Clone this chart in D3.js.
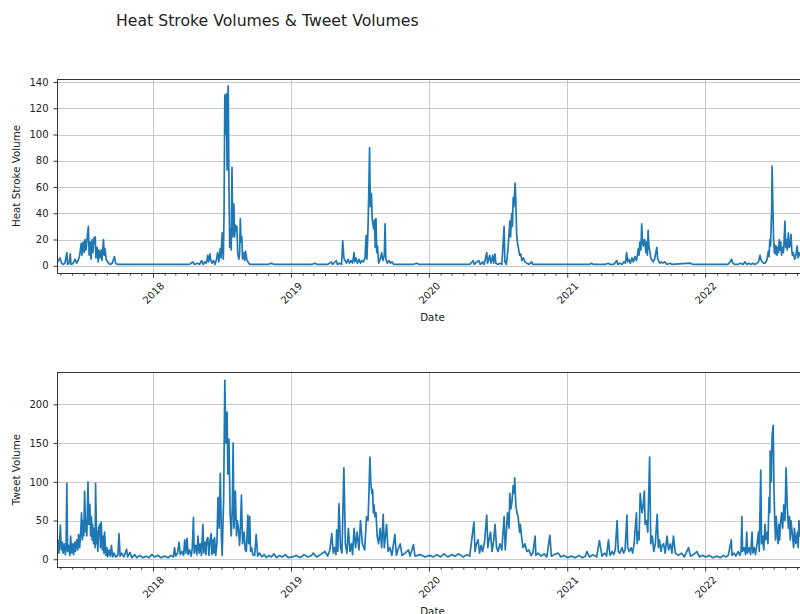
<!DOCTYPE html>
<html><head><meta charset="utf-8">
<script src="https://cdn.jsdelivr.net/npm/d3@7"></script>
<style>body{margin:0;background:#fff}svg{display:block;font-family:"DejaVu Sans",sans-serif}</style>
</head><body>
<svg id="c" width="800" height="614"></svg>
<script>
const titleText = "Heat Stroke Volumes & Tweet Volumes";
const dateExtent = ["2017-04-22", "2022-09-30"];
const yearTicks = ["2018-01-01", "2019-01-01", "2020-01-01", "2021-01-01", "2022-01-01"];
const heatTicks = [0, 20, 40, 60, 80, 100, 120, 140];
const tweetTicks = [0, 50, 100, 150, 200];
const heatDomain = [-5.5, 142.3];
const tweetDomain = [-10, 241.8];

const heatStroke = [
["2017-04-22",2],["2017-04-26",4],["2017-04-30",6],["2017-05-04",2],["2017-05-08",1],["2017-05-13",2],["2017-05-18",10],["2017-05-20",1],["2017-05-24",2],["2017-05-27",9],["2017-05-29",1],["2017-06-04",2],["2017-06-09",5],["2017-06-13",2],["2017-06-17",4],["2017-06-21",8],["2017-06-25",17],["2017-06-27",8],["2017-06-30",18],["2017-07-03",10],["2017-07-05",20],["2017-07-08",12],["2017-07-11",22],["2017-07-14",30],["2017-07-16",8],["2017-07-19",18],["2017-07-21",5],["2017-07-24",20],["2017-07-26",10],["2017-07-29",21],["2017-08-01",22],["2017-08-03",6],["2017-08-06",14],["2017-08-09",3],["2017-08-11",12],["2017-08-14",6],["2017-08-17",12],["2017-08-19",4],["2017-08-23",20],["2017-08-25",8],["2017-08-27",13],["2017-08-30",5],["2017-09-03",3],["2017-09-09",1],["2017-09-15",2],["2017-09-21",7],["2017-09-24",2],["2017-09-28",1],["2017-11-15",1],["2018-02-01",1],
["2018-04-08",1],["2018-04-16",3],["2018-04-21",1],["2018-04-29",2],["2018-05-04",1],["2018-05-10",4],["2018-05-14",1],["2018-05-18",3],["2018-05-22",2],["2018-05-26",8],["2018-05-28",3],["2018-06-01",9],["2018-06-03",4],["2018-06-06",2],["2018-06-10",4],["2018-06-14",1],["2018-06-18",5],["2018-06-21",10],["2018-06-24",3],["2018-06-28",13],["2018-06-30",6],["2018-07-03",25],["2018-07-06",5],["2018-07-08",40],["2018-07-10",130],["2018-07-12",100],["2018-07-14",131],["2018-07-16",73],["2018-07-17",120],["2018-07-19",137],["2018-07-21",60],["2018-07-23",14],["2018-07-25",28],["2018-07-27",12],["2018-07-29",75],["2018-07-31",22],["2018-08-02",40],["2018-08-03",47],["2018-08-05",22],["2018-08-07",31],["2018-08-09",27],["2018-08-11",30],["2018-08-13",10],["2018-08-16",5],["2018-08-18",8],["2018-08-20",36],["2018-08-22",18],["2018-08-24",22],["2018-08-26",5],["2018-08-29",10],["2018-09-01",4],["2018-09-03",11],["2018-09-06",5],["2018-09-09",3],["2018-09-14",1],["2018-11-01",1],["2018-11-11",2],["2018-11-17",1],["2019-01-15",1],
["2019-02-25",1],["2019-03-05",2],["2019-03-12",1],["2019-04-08",1],["2019-04-18",3],["2019-04-21",1],["2019-05-01",4],["2019-05-04",1],["2019-05-10",2],["2019-05-15",1],["2019-05-18",19],["2019-05-21",6],["2019-05-24",4],["2019-05-28",2],["2019-06-01",5],["2019-06-05",2],["2019-06-09",4],["2019-06-13",2],["2019-06-17",10],["2019-06-19",3],["2019-06-22",6],["2019-06-26",2],["2019-06-30",5],["2019-07-04",2],["2019-07-08",4],["2019-07-12",3],["2019-07-16",6],["2019-07-19",23],["2019-07-21",5],["2019-07-24",30],["2019-07-26",58],["2019-07-28",90],["2019-07-30",45],["2019-08-02",55],["2019-08-04",35],["2019-08-06",32],["2019-08-08",28],["2019-08-10",35],["2019-08-12",14],["2019-08-14",36],["2019-08-16",10],["2019-08-18",15],["2019-08-21",2],["2019-08-25",5],["2019-08-29",10],["2019-09-01",4],["2019-09-05",8],["2019-09-07",32],["2019-09-09",5],["2019-09-13",2],["2019-09-17",4],["2019-09-21",2],["2019-09-25",3],["2019-09-30",1],["2019-11-21",1],["2019-11-29",2],["2019-12-07",1],["2020-02-15",1],
["2020-04-18",1],["2020-04-27",4],["2020-04-30",1],["2020-05-07",3],["2020-05-12",4],["2020-05-16",1],["2020-05-22",3],["2020-05-26",1],["2020-06-02",10],["2020-06-04",2],["2020-06-07",5],["2020-06-10",8],["2020-06-13",2],["2020-06-18",8],["2020-06-20",2],["2020-06-24",9],["2020-06-26",2],["2020-07-02",1],["2020-07-07",2],["2020-07-12",1],["2020-07-18",30],["2020-07-20",3],["2020-07-24",1],["2020-07-28",12],["2020-07-31",25],["2020-08-02",34],["2020-08-04",22],["2020-08-07",40],["2020-08-09",30],["2020-08-11",52],["2020-08-13",45],["2020-08-16",63],["2020-08-18",50],["2020-08-20",25],["2020-08-22",18],["2020-08-24",15],["2020-08-28",8],["2020-08-31",9],["2020-09-03",4],["2020-09-07",6],["2020-09-11",3],["2020-09-16",2],["2020-09-22",1],["2020-09-29",3],["2020-10-02",1],["2021-01-15",1],
["2021-03-02",1],["2021-03-06",2],["2021-03-11",1],["2021-04-11",1],["2021-04-19",2],["2021-04-24",1],["2021-05-04",1],["2021-05-12",4],["2021-05-15",1],["2021-05-20",2],["2021-05-26",1],["2021-05-31",3],["2021-06-04",2],["2021-06-07",10],["2021-06-10",3],["2021-06-13",5],["2021-06-17",2],["2021-06-21",6],["2021-06-25",3],["2021-06-29",7],["2021-07-03",4],["2021-07-06",9],["2021-07-08",13],["2021-07-10",8],["2021-07-12",18],["2021-07-15",12],["2021-07-17",32],["2021-07-19",20],["2021-07-21",15],["2021-07-23",19],["2021-07-25",20],["2021-07-28",10],["2021-07-30",18],["2021-08-01",8],["2021-08-03",27],["2021-08-05",15],["2021-08-08",10],["2021-08-10",6],["2021-08-12",5],["2021-08-16",3],["2021-08-20",5],["2021-08-22",8],["2021-08-26",14],["2021-08-28",6],["2021-08-30",4],["2021-09-03",2],["2021-09-07",3],["2021-09-11",2],["2021-09-16",3],["2021-09-22",1],["2021-09-30",2],["2021-10-05",1],["2021-11-22",2],["2021-11-30",1],["2022-02-01",1],
["2022-03-02",1],["2022-03-08",3],["2022-03-12",5],["2022-03-15",2],["2022-03-20",1],["2022-03-28",1],["2022-04-05",2],["2022-04-11",1],["2022-04-16",3],["2022-04-21",1],["2022-04-26",2],["2022-05-02",1],["2022-05-07",2],["2022-05-12",1],["2022-05-18",2],["2022-05-22",3],["2022-05-26",8],["2022-05-28",5],["2022-06-01",3],["2022-06-05",2],["2022-06-09",2],["2022-06-13",4],["2022-06-17",11],["2022-06-19",7],["2022-06-21",20],["2022-06-23",15],["2022-06-26",45],["2022-06-27",76],["2022-06-29",45],["2022-07-01",20],["2022-07-03",10],["2022-07-04",16],["2022-07-06",9],["2022-07-08",15],["2022-07-10",8],["2022-07-12",14],["2022-07-14",10],["2022-07-16",20],["2022-07-18",12],["2022-07-20",18],["2022-07-22",8],["2022-07-24",14],["2022-07-27",10],["2022-07-29",20],["2022-07-31",34],["2022-08-02",14],["2022-08-04",20],["2022-08-06",12],["2022-08-09",25],["2022-08-11",14],["2022-08-13",15],["2022-08-16",24],["2022-08-18",12],["2022-08-20",8],["2022-08-22",10],["2022-08-26",5],["2022-08-29",8],["2022-09-01",15],["2022-09-04",6],["2022-09-06",10],["2022-09-09",8],["2022-09-13",5],["2022-09-18",4],["2022-09-23",3],["2022-09-30",2]
];

const tweets = [
["2017-04-22",15],["2017-04-25",24],["2017-04-27",8],["2017-05-01",44],["2017-05-03",12],["2017-05-06",22],["2017-05-08",8],["2017-05-11",20],["2017-05-14",6],["2017-05-16",15],["2017-05-18",98],["2017-05-20",10],["2017-05-23",18],["2017-05-26",5],["2017-05-28",30],["2017-05-31",8],["2017-06-03",20],["2017-06-05",6],["2017-06-08",22],["2017-06-10",10],["2017-06-13",25],["2017-06-16",12],["2017-06-18",32],["2017-06-21",15],["2017-06-24",38],["2017-06-26",60],["2017-06-28",25],["2017-06-30",50],["2017-07-02",30],["2017-07-04",88],["2017-07-07",35],["2017-07-08",50],["2017-07-10",30],["2017-07-13",100],["2017-07-15",45],["2017-07-18",71],["2017-07-20",30],["2017-07-22",55],["2017-07-24",25],["2017-07-25",45],["2017-07-28",20],["2017-07-29",40],["2017-08-01",15],["2017-08-02",98],["2017-08-05",20],["2017-08-06",35],["2017-08-08",10],["2017-08-10",40],["2017-08-13",45],["2017-08-15",15],["2017-08-17",48],["2017-08-20",12],["2017-08-22",30],["2017-08-24",8],["2017-08-26",35],["2017-08-29",5],["2017-09-01",15],["2017-09-03",3],["2017-09-07",12],["2017-09-10",4],["2017-09-13",18],["2017-09-16",3],["2017-09-20",8],["2017-09-24",3],["2017-09-30",5],["2017-10-03",33],["2017-10-06",4],["2017-10-10",8],["2017-10-16",3],["2017-10-23",13],["2017-10-26",3],["2017-11-01",9],["2017-11-06",2],["2017-11-14",6],["2017-11-19",2],["2017-11-27",5],["2017-12-05",2],["2017-12-13",4],["2017-12-21",2],["2017-12-29",6],
["2018-01-05",3],["2018-01-14",5],["2018-01-22",2],["2018-02-01",4],["2018-02-10",2],["2018-02-18",5],["2018-02-24",3],["2018-02-27",15],["2018-03-02",4],["2018-03-07",8],["2018-03-11",22],["2018-03-14",6],["2018-03-19",10],["2018-03-23",5],["2018-03-26",25],["2018-03-29",8],["2018-04-01",27],["2018-04-04",6],["2018-04-08",12],["2018-04-12",4],["2018-04-15",15],["2018-04-18",54],["2018-04-20",8],["2018-04-24",18],["2018-04-27",6],["2018-04-30",30],["2018-05-03",8],["2018-05-06",20],["2018-05-09",5],["2018-05-13",45],["2018-05-15",8],["2018-05-18",22],["2018-05-21",6],["2018-05-23",25],["2018-05-26",28],["2018-05-29",5],["2018-06-01",25],["2018-06-04",33],["2018-06-06",6],["2018-06-09",25],["2018-06-11",8],["2018-06-13",28],["2018-06-16",5],["2018-06-19",20],["2018-06-22",80],["2018-06-25",40],["2018-06-28",111],["2018-07-01",30],["2018-07-03",5],["2018-07-07",80],["2018-07-10",231],["2018-07-13",150],["2018-07-16",190],["2018-07-18",110],["2018-07-21",155],["2018-07-24",60],["2018-07-27",30],["2018-07-30",70],["2018-08-01",150],["2018-08-03",40],["2018-08-05",60],["2018-08-07",88],["2018-08-10",30],["2018-08-12",50],["2018-08-15",40],["2018-08-18",18],["2018-08-20",35],["2018-08-23",83],["2018-08-26",20],["2018-08-30",35],["2018-09-02",12],["2018-09-05",10],["2018-09-09",57],["2018-09-11",20],["2018-09-14",55],["2018-09-16",10],["2018-09-19",15],["2018-09-22",6],["2018-09-27",5],["2018-10-01",32],["2018-10-05",4],["2018-10-10",8],["2018-10-16",3],["2018-10-22",6],["2018-10-28",2],["2018-11-04",5],["2018-11-10",3],["2018-11-17",7],["2018-11-24",2],["2018-12-01",5],["2018-12-09",3],["2018-12-17",6],["2018-12-25",2],
["2019-01-05",3],["2019-01-15",5],["2019-01-25",2],["2019-02-05",6],["2019-02-15",3],["2019-02-25",5],["2019-03-01",8],["2019-03-10",3],["2019-03-20",6],["2019-04-01",10],["2019-04-08",4],["2019-04-14",12],["2019-04-19",33],["2019-04-23",8],["2019-04-27",15],["2019-04-30",6],["2019-05-02",38],["2019-05-05",10],["2019-05-08",72],["2019-05-12",15],["2019-05-16",8],["2019-05-21",118],["2019-05-25",20],["2019-05-29",8],["2019-06-02",40],["2019-06-06",10],["2019-06-10",20],["2019-06-13",6],["2019-06-17",40],["2019-06-21",15],["2019-06-25",35],["2019-06-30",12],["2019-07-04",50],["2019-07-09",20],["2019-07-15",12],["2019-07-20",55],["2019-07-24",50],["2019-07-26",80],["2019-07-29",132],["2019-07-31",100],["2019-08-03",85],["2019-08-05",90],["2019-08-07",60],["2019-08-09",70],["2019-08-11",55],["2019-08-14",60],["2019-08-17",30],["2019-08-21",20],["2019-08-25",40],["2019-08-29",15],["2019-09-02",58],["2019-09-05",15],["2019-09-11",45],["2019-09-15",10],["2019-09-20",15],["2019-09-25",5],["2019-10-03",32],["2019-10-07",5],["2019-10-11",12],["2019-10-17",20],["2019-10-22",5],["2019-10-30",8],["2019-11-08",12],["2019-11-12",4],["2019-11-21",19],["2019-11-25",4],["2019-12-09",6],["2019-12-22",3],
["2020-01-03",5],["2020-01-12",3],["2020-01-22",6],["2020-02-01",3],["2020-02-10",7],["2020-02-20",3],["2020-03-01",6],["2020-03-10",4],["2020-03-20",7],["2020-04-01",3],["2020-04-10",6],["2020-04-18",4],["2020-04-29",48],["2020-05-02",10],["2020-05-06",20],["2020-05-10",25],["2020-05-14",8],["2020-05-18",18],["2020-05-22",10],["2020-05-27",22],["2020-06-02",57],["2020-06-05",15],["2020-06-08",25],["2020-06-12",35],["2020-06-16",10],["2020-06-20",22],["2020-06-24",45],["2020-06-28",15],["2020-07-02",10],["2020-07-07",20],["2020-07-12",12],["2020-07-18",55],["2020-07-21",12],["2020-07-27",60],["2020-07-31",40],["2020-08-02",85],["2020-08-05",65],["2020-08-08",75],["2020-08-11",95],["2020-08-14",85],["2020-08-15",105],["2020-08-18",70],["2020-08-21",60],["2020-08-24",55],["2020-08-28",35],["2020-08-30",45],["2020-09-02",30],["2020-09-06",15],["2020-09-11",20],["2020-09-16",10],["2020-09-22",12],["2020-09-27",5],["2020-10-02",8],["2020-10-08",30],["2020-10-10",5],["2020-10-16",8],["2020-10-24",4],["2020-11-01",7],["2020-11-08",3],["2020-11-16",31],["2020-11-20",4],["2020-11-27",6],["2020-12-08",8],["2020-12-15",3],["2020-12-23",5],
["2021-01-02",2],["2021-01-12",4],["2021-01-22",2],["2021-02-01",5],["2021-02-10",2],["2021-02-18",4],["2021-02-22",10],["2021-03-01",3],["2021-03-10",6],["2021-03-20",3],["2021-03-27",24],["2021-04-03",4],["2021-04-10",8],["2021-04-15",4],["2021-04-20",25],["2021-04-24",5],["2021-04-30",10],["2021-05-04",6],["2021-05-08",12],["2021-05-13",50],["2021-05-16",10],["2021-05-20",8],["2021-05-26",15],["2021-05-30",8],["2021-06-03",12],["2021-06-08",57],["2021-06-10",15],["2021-06-14",10],["2021-06-19",15],["2021-06-23",8],["2021-06-27",20],["2021-07-03",60],["2021-07-05",20],["2021-07-08",35],["2021-07-10",25],["2021-07-13",85],["2021-07-18",60],["2021-07-21",70],["2021-07-24",88],["2021-07-26",45],["2021-07-30",50],["2021-08-02",35],["2021-08-07",132],["2021-08-10",20],["2021-08-14",30],["2021-08-18",10],["2021-08-22",20],["2021-08-27",58],["2021-08-30",15],["2021-09-02",25],["2021-09-06",10],["2021-09-09",18],["2021-09-13",20],["2021-09-17",8],["2021-09-22",30],["2021-09-26",12],["2021-10-01",20],["2021-10-05",8],["2021-10-09",30],["2021-10-14",8],["2021-10-22",5],["2021-10-30",8],["2021-11-07",3],["2021-11-18",15],["2021-11-23",4],["2021-12-01",6],["2021-12-10",10],["2021-12-17",3],["2021-12-24",5],
["2022-01-03",3],["2022-01-12",5],["2022-01-21",2],["2022-02-01",4],["2022-02-10",2],["2022-02-18",5],["2022-02-25",3],["2022-03-03",5],["2022-03-11",25],["2022-03-13",5],["2022-03-18",8],["2022-03-23",4],["2022-03-29",10],["2022-04-03",5],["2022-04-06",12],["2022-04-08",55],["2022-04-10",10],["2022-04-14",15],["2022-04-18",6],["2022-04-21",35],["2022-04-23",8],["2022-04-27",15],["2022-05-01",6],["2022-05-05",35],["2022-05-07",8],["2022-05-11",15],["2022-05-14",6],["2022-05-18",20],["2022-05-22",35],["2022-05-24",10],["2022-05-28",115],["2022-05-30",20],["2022-06-02",30],["2022-06-05",12],["2022-06-08",45],["2022-06-10",25],["2022-06-14",35],["2022-06-16",20],["2022-06-19",80],["2022-06-21",60],["2022-06-22",140],["2022-06-25",100],["2022-06-27",160],["2022-06-30",173],["2022-07-02",90],["2022-07-04",50],["2022-07-06",25],["2022-07-08",55],["2022-07-11",30],["2022-07-13",20],["2022-07-15",45],["2022-07-17",25],["2022-07-19",45],["2022-07-22",60],["2022-07-25",40],["2022-07-28",70],["2022-07-31",50],["2022-08-03",118],["2022-08-06",70],["2022-08-09",40],["2022-08-12",55],["2022-08-14",25],["2022-08-16",50],["2022-08-20",30],["2022-08-23",15],["2022-08-25",40],["2022-08-29",20],["2022-09-02",35],["2022-09-04",15],["2022-09-06",50],["2022-09-08",30],["2022-09-12",40],["2022-09-17",25],["2022-09-23",30],["2022-09-30",20]
];

const parse = d3.timeParse("%Y-%m-%d");
const svg = d3.select("#c");
const ink = "#222";
const lineColor = "#1f77b4";
const left = 57, right = 808;

const x = d3.scaleTime().domain(dateExtent.map(parse)).range([left, right]);
const years = yearTicks.map(parse);
const months = d3.timeMonth.range(x.domain()[0], x.domain()[1]).filter(d => d.getMonth() !== 0);

svg.append("text")
  .attr("x", 116).attr("y", 26)
  .attr("font-size", "15.7px").attr("fill", ink)
  .text(titleText);

function panel(id, data, ticks, domain, top, bottom, ylabel) {
  const y = d3.scaleLinear().domain(domain).range([bottom, top]);
  const g = svg.append("g");

  g.append("clipPath").attr("id", "clip" + id)
    .append("rect").attr("x", left).attr("y", top).attr("width", right - left).attr("height", bottom - top);

  g.append("g").selectAll("line").data(ticks).join("line")
    .attr("x1", left).attr("x2", right)
    .attr("y1", d => Math.round(y(d)) + 0.5).attr("y2", d => Math.round(y(d)) + 0.5)
    .attr("stroke", "#c9c9c9").attr("stroke-width", 1);
  g.append("g").selectAll("line").data(years).join("line")
    .attr("x1", d => Math.round(x(d)) + 0.5).attr("x2", d => Math.round(x(d)) + 0.5)
    .attr("y1", top).attr("y2", bottom)
    .attr("stroke", "#c9c9c9").attr("stroke-width", 1);

  const pts = data.map(d => [parse(d[0]), d[1]]);
  g.append("path")
    .attr("clip-path", `url(#clip${id})`)
    .attr("d", d3.line().x(d => x(d[0])).y(d => y(d[1]))(pts))
    .attr("fill", "none").attr("stroke", lineColor)
    .attr("stroke-width", 1.7).attr("stroke-linejoin", "round");

  g.append("rect")
    .attr("x", left + 0.5).attr("y", top + 0.5)
    .attr("width", right - left).attr("height", bottom - top)
    .attr("fill", "none").attr("stroke", "#333").attr("stroke-width", 1);

  const ya = g.append("g").attr("transform", `translate(${left + 0.5},0)`)
    .call(d3.axisLeft(y).tickValues(ticks).tickSize(4).tickPadding(5));
  ya.select(".domain").remove();
  ya.selectAll("line").attr("stroke", "#333");
  ya.selectAll("text").attr("font-size", "10px").attr("fill", ink).attr("font-family", "DejaVu Sans");

  const xa = g.append("g").attr("transform", `translate(0,${bottom + 0.5})`)
    .call(d3.axisBottom(x).tickValues(years).tickFormat(d3.timeFormat("%Y")).tickSize(4));
  xa.select(".domain").remove();
  xa.selectAll("line").attr("stroke", "#333");
  xa.selectAll("text")
    .attr("y", 0).attr("dy", null)
    .attr("dominant-baseline", "central")
    .attr("text-anchor", "middle")
    .attr("transform", "translate(0,19.5) rotate(-45)")
    .attr("font-size", "10px").attr("fill", ink).attr("font-family", "DejaVu Sans");

  const xm = g.append("g").attr("transform", `translate(0,${bottom + 0.5})`)
    .call(d3.axisBottom(x).tickValues(months).tickFormat("").tickSize(2));
  xm.select(".domain").remove();
  xm.selectAll("line").attr("stroke", "#333");

  g.append("text")
    .attr("x", (left + right) / 2).attr("y", bottom + 44)
    .attr("text-anchor", "middle").attr("dominant-baseline", "central")
    .attr("font-size", "10.3px").attr("fill", ink).text("Date");
  g.append("text")
    .attr("transform", `translate(16,${(top + bottom) / 2}) rotate(-90)`)
    .attr("text-anchor", "middle").attr("dominant-baseline", "central")
    .attr("font-size", "10.3px").attr("fill", ink).text(ylabel);
}

panel("a", heatStroke, heatTicks, heatDomain, 79, 273, "Heat Stroke Volume");
panel("b", tweets, tweetTicks, tweetDomain, 372, 567, "Tweet Volume");
</script>
</body></html>
